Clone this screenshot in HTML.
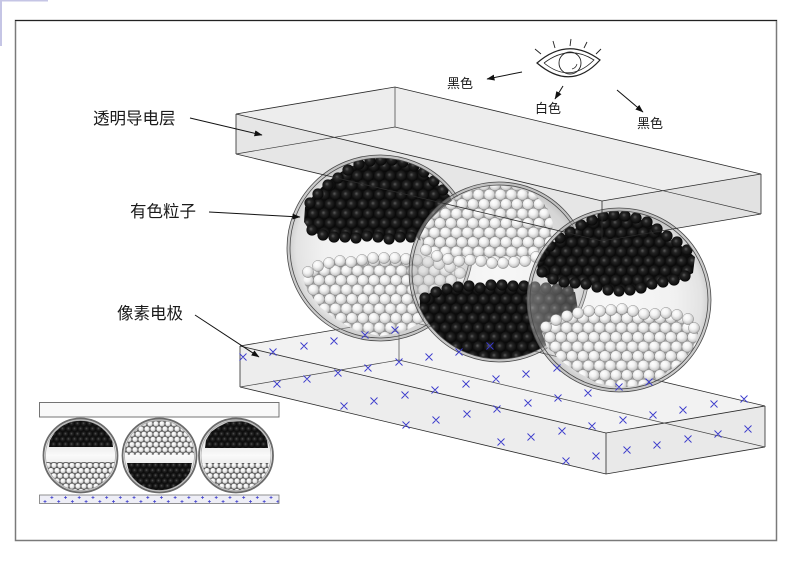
<!DOCTYPE html>
<html><head><meta charset="utf-8"><style>
html,body{margin:0;padding:0;background:#fff;}
svg{display:block;}
text{font-family:"Liberation Sans","Noto Sans CJK SC",sans-serif;fill:#1a1a1a;}
</style></head><body>
<svg width="793" height="561" viewBox="0 0 793 561" xmlns="http://www.w3.org/2000/svg">
<defs>
<radialGradient id="gBk" cx="0.45" cy="0.45" r="0.55" fx="0.4" fy="0.4">
<stop offset="0" stop-color="#5a5a5a"/><stop offset="0.35" stop-color="#252525"/><stop offset="1" stop-color="#070707"/>
</radialGradient>
<radialGradient id="gWt" cx="0.45" cy="0.42" r="0.6" fx="0.35" fy="0.3">
<stop offset="0" stop-color="#ffffff"/><stop offset="0.45" stop-color="#f3f3f3"/><stop offset="0.8" stop-color="#cfcfcf"/><stop offset="1" stop-color="#9c9c9c"/>
</radialGradient>
<pattern id="pBk" width="11" height="19" patternUnits="userSpaceOnUse">
<rect width="11" height="19" fill="#0d0d0d"/>
<circle cx="0" cy="-4.75" r="5.6" fill="url(#gBk)"/><circle cx="11" cy="-4.75" r="5.6" fill="url(#gBk)"/>
<circle cx="5.5" cy="4.75" r="5.6" fill="url(#gBk)"/>
<circle cx="0" cy="14.25" r="5.6" fill="url(#gBk)"/><circle cx="11" cy="14.25" r="5.6" fill="url(#gBk)"/>
<circle cx="5.5" cy="23.75" r="5.6" fill="url(#gBk)"/>
</pattern>
<pattern id="pWt" width="11" height="19" patternUnits="userSpaceOnUse">
<rect width="11" height="19" fill="#a2a2a2"/>
<g stroke="#7a7a7a" stroke-width="0.4" fill="url(#gWt)">
<circle cx="0" cy="-4.75" r="5.6"/><circle cx="11" cy="-4.75" r="5.6"/>
<circle cx="5.5" cy="4.75" r="5.6"/>
<circle cx="0" cy="14.25" r="5.6"/><circle cx="11" cy="14.25" r="5.6"/>
<circle cx="5.5" cy="23.75" r="5.6"/>
</g>
</pattern>
<pattern id="pBk2" width="6" height="10.4" patternUnits="userSpaceOnUse">
<rect width="6" height="10.4" fill="#111"/>
<g fill="url(#gBk)">
<circle cx="0" cy="-2.6" r="3.1"/><circle cx="6" cy="-2.6" r="3.1"/><circle cx="3" cy="2.6" r="3.1"/>
<circle cx="0" cy="7.8" r="3.1"/><circle cx="6" cy="7.8" r="3.1"/><circle cx="3" cy="13" r="3.1"/>
</g>
</pattern>
<pattern id="pWt2" width="6" height="10.4" patternUnits="userSpaceOnUse">
<rect width="6" height="10.4" fill="#606060"/>
<g fill="url(#gWt)" stroke="#444" stroke-width="0.45">
<circle cx="0" cy="-2.6" r="2.9"/><circle cx="6" cy="-2.6" r="2.9"/><circle cx="3" cy="2.6" r="2.9"/>
<circle cx="0" cy="7.8" r="2.9"/><circle cx="6" cy="7.8" r="2.9"/><circle cx="3" cy="13" r="2.9"/>
</g>
</pattern>
<pattern id="pPlus" x="45" y="495" width="13.7" height="8" patternUnits="userSpaceOnUse">
<path d="M5.35,2.5h3M6.85,1v3M-1.5,6.5h3M0,5v3M12.2,6.5h3M13.7,5v3" stroke="#3a3acc" stroke-width="0.7" fill="none"/>
</pattern>
<radialGradient id="glass" cx="0.5" cy="0.5" r="0.5">
<stop offset="0" stop-color="#d8d8d8" stop-opacity="0.2"/>
<stop offset="0.6" stop-color="#d0d0d0" stop-opacity="0.3"/>
<stop offset="0.9" stop-color="#c0c0c0" stop-opacity="0.45"/>
<stop offset="1" stop-color="#a0a0a0" stop-opacity="0.6"/>
</radialGradient>
<linearGradient id="iglass" x1="0" y1="0" x2="0" y2="1">
<stop offset="0" stop-color="#c4c4c4"/><stop offset="0.5" stop-color="#fafafa"/><stop offset="1" stop-color="#c4c4c4"/>
</linearGradient>
<clipPath id="c1"><circle cx="380" cy="248" r="90"/></clipPath>
<clipPath id="c2"><circle cx="499" cy="272" r="87"/></clipPath>
<clipPath id="c3"><circle cx="619" cy="300" r="89"/></clipPath>
<clipPath id="ic1"><circle cx="80.5" cy="455.5" r="35"/></clipPath>
<clipPath id="ic2"><circle cx="159.5" cy="455.5" r="35"/></clipPath>
<clipPath id="ic3"><circle cx="236" cy="455.5" r="35"/></clipPath>
<marker id="ah" markerWidth="8" markerHeight="6" refX="7.5" refY="3" orient="auto" markerUnits="userSpaceOnUse">
<path d="M0,0 L8,3 L0,6 z" fill="#111"/>
</marker>
</defs>

<!-- corner marks & frame -->
<rect x="0" y="0" width="48" height="1.5" fill="#c5c5e5"/>
<rect x="0" y="0" width="2" height="46" fill="#c5c5e5"/>
<rect x="15.5" y="20.5" width="761" height="520" fill="none" stroke="#7a7a7a" stroke-width="1.5"/>
<line x1="15" y1="20.5" x2="777" y2="20.5" stroke="#222" stroke-width="1"/>

<!-- eye -->
<g fill="none" stroke="#222" stroke-width="1">
<path d="M537,63 Q568,36 600,60 Q571,92 537,63 Z" stroke-width="1.2"/>
<path d="M544,63 Q569,44 594,60 Q570,84 544,63" stroke-width="0.8"/>
<circle cx="570" cy="63" r="11" stroke-width="0.9"/>
<path d="M572,69 Q576,68 577,64" stroke-width="0.7"/>
<path d="M541,54 L535,49 M555,48 L553,41 M570,46 L571,39 M584,48 L587,42 M596,54 L601,49" stroke-width="0.9"/>
</g>
<g stroke="#111" stroke-width="1" fill="none" marker-end="url(#ah)">
<line x1="522" y1="72" x2="487" y2="79"/>
<line x1="563" y1="86" x2="555" y2="99"/>
<line x1="617" y1="90" x2="643" y2="112"/>
</g>
<text x="447" y="88" font-size="13">黑色</text>
<text x="535" y="113" font-size="13">白色</text>
<text x="637" y="128" font-size="13">黑色</text>

<!-- top plate fills -->
<path d="M236,114 L395,87 L761,174 L602,201 Z" fill="#ededed"/>
<path d="M236,114 L602,201 L602,241 L236,154 Z" fill="#e6e6e6"/>
<path d="M602,201 L761,174 L761,214 L602,241 Z" fill="#e2e2e2"/>

<!-- bottom plate -->
<path d="M240,346 L399,319 L765,406 L606,433 Z" fill="#f2f2f2"/>
<path d="M240,346 L606,433 L606,474 L240,387 Z" fill="#ededed"/>
<path d="M606,433 L765,406 L765,447 L606,474 Z" fill="#e9e9e9"/>
<g fill="none" stroke="#2a2a2a" stroke-width="0.8">
<path d="M240,346 L399,319 L765,406 L606,433 Z"/>
<path d="M240,387 L606,474 L765,447"/>
<path d="M240,346 V387 M606,433 V474 M765,406 V447"/>
<path d="M240,387 L399,360 L765,447 M399,319 V360" stroke="#444" stroke-width="0.7"/>
</g>

<!-- sphere 1 -->
<circle cx="380" cy="248" r="93" fill="url(#glass)"/>
<g clip-path="url(#c1)">
<path d="M305,207 L313,196 L327,182 L347,168 L363,162 L387,159 L407,163 L423,172 L437,184 L450,196 L456,212 L452,228 L437,233 L423,236 L407,238 L390,240 L373,237 L357,239 L340,238 L323,236 L310,231 L304,222 Z" fill="url(#pBk)"/>
<g fill="url(#gBk)">
<circle cx="312" cy="230" r="5.6"/><circle cx="323" cy="235" r="5.6"/><circle cx="334" cy="237" r="5.6"/><circle cx="345" cy="237" r="5.6"/><circle cx="356" cy="238" r="5.6"/><circle cx="367" cy="236" r="5.6"/><circle cx="378" cy="237" r="5.6"/><circle cx="389" cy="239" r="5.6"/><circle cx="400" cy="237" r="5.6"/><circle cx="411" cy="237" r="5.6"/><circle cx="422" cy="235" r="5.6"/><circle cx="433" cy="232" r="5.6"/><circle cx="444" cy="229" r="5.6"/>
<circle cx="310" cy="203" r="5.6"/><circle cx="318" cy="194" r="5.6"/><circle cx="328" cy="185" r="5.6"/><circle cx="338" cy="178" r="5.6"/><circle cx="348" cy="170" r="5.6"/><circle cx="359" cy="164" r="5.6"/><circle cx="370" cy="161" r="5.6"/><circle cx="381" cy="160" r="5.6"/><circle cx="392" cy="160" r="5.6"/><circle cx="403" cy="162" r="5.6"/><circle cx="414" cy="166" r="5.6"/><circle cx="424" cy="172" r="5.6"/><circle cx="434" cy="181" r="5.6"/><circle cx="443" cy="190" r="5.6"/>
</g>
<path d="M303,280 L310,267 L323,263 L340,260 L357,262 L370,258 L387,257 L413,259 L433,262 L453,268 L467,277 L466,292 L445,305 L422,322 L403,332 L380,336 L357,331 L337,320 L320,307 L308,292 Z" fill="url(#pWt)"/>
<g fill="url(#gWt)" stroke="#7a7a7a" stroke-width="0.4">
<circle cx="308" cy="272" r="5.6"/><circle cx="318" cy="266" r="5.6"/><circle cx="329" cy="263" r="5.6"/><circle cx="340" cy="261" r="5.6"/><circle cx="351" cy="262" r="5.6"/><circle cx="362" cy="260" r="5.6"/><circle cx="373" cy="258" r="5.6"/><circle cx="384" cy="258" r="5.6"/><circle cx="395" cy="258" r="5.6"/><circle cx="406" cy="259" r="5.6"/><circle cx="417" cy="260" r="5.6"/><circle cx="428" cy="262" r="5.6"/><circle cx="439" cy="264" r="5.6"/><circle cx="450" cy="267" r="5.6"/><circle cx="460" cy="273" r="5.6"/>
</g>
</g>
<g fill="none" stroke="#4a4a4a" stroke-width="0.8">
<circle cx="380" cy="248" r="93"/><circle cx="380" cy="248" r="90"/>
</g>

<!-- sphere 2 -->
<circle cx="499" cy="272" r="90" fill="url(#glass)"/>
<g clip-path="url(#c2)">
<path d="M420,237 L427,223 L440,210 L457,197 L473,190 L493,185 L513,187 L533,193 L547,207 L553,223 L550,250 L540,258 L527,263 L510,263 L493,265 L477,260 L460,262 L443,258 L430,253 L422,247 Z" fill="url(#pWt)"/>
<g fill="url(#gWt)" stroke="#7a7a7a" stroke-width="0.4">
<circle cx="426" cy="250" r="5.6"/><circle cx="437" cy="256" r="5.6"/><circle cx="448" cy="259" r="5.6"/><circle cx="459" cy="261" r="5.6"/><circle cx="470" cy="260" r="5.6"/><circle cx="481" cy="261" r="5.6"/><circle cx="492" cy="263" r="5.6"/><circle cx="503" cy="263" r="5.6"/><circle cx="514" cy="262" r="5.6"/><circle cx="525" cy="261" r="5.6"/><circle cx="536" cy="257" r="5.6"/><circle cx="546" cy="251" r="5.6"/>
</g>
<path d="M420,300 L430,293 L450,288 L467,285 L480,288 L493,283 L510,285 L530,286 L555,288 L575,292 L578,310 L570,330 L555,348 L535,358 L517,362 L500,363 L480,361 L460,354 L440,341 L427,328 L420,313 Z" fill="url(#pBk)"/>
<g fill="url(#gBk)">
<circle cx="425" cy="298" r="5.6"/><circle cx="436" cy="292" r="5.6"/><circle cx="447" cy="289" r="5.6"/><circle cx="458" cy="287" r="5.6"/><circle cx="469" cy="286" r="5.6"/><circle cx="480" cy="288" r="5.6"/><circle cx="491" cy="285" r="5.6"/><circle cx="502" cy="285" r="5.6"/><circle cx="513" cy="286" r="5.6"/><circle cx="524" cy="286" r="5.6"/><circle cx="535" cy="287" r="5.6"/><circle cx="546" cy="288" r="5.6"/><circle cx="557" cy="289" r="5.6"/><circle cx="568" cy="291" r="5.6"/>
</g>
</g>
<g fill="none" stroke="#4a4a4a" stroke-width="0.8">
<circle cx="499" cy="272" r="90"/><circle cx="499" cy="272" r="87"/>
</g>

<!-- sphere 3 -->
<circle cx="619" cy="300" r="92" fill="url(#glass)"/>
<g clip-path="url(#c3)">
<path d="M537,260 L543,252 L557,240 L573,230 L590,220 L610,215 L633,217 L650,223 L667,237 L683,247 L695,257 L693,273 L680,280 L660,283 L640,290 L620,292 L600,287 L583,283 L567,283 L550,280 L538,273 Z" fill="url(#pBk)"/>
<g fill="url(#gBk)">
<circle cx="542" cy="272" r="5.6"/><circle cx="553" cy="279" r="5.6"/><circle cx="564" cy="282" r="5.6"/><circle cx="575" cy="283" r="5.6"/><circle cx="586" cy="284" r="5.6"/><circle cx="597" cy="287" r="5.6"/><circle cx="608" cy="290" r="5.6"/><circle cx="619" cy="291" r="5.6"/><circle cx="630" cy="290" r="5.6"/><circle cx="641" cy="288" r="5.6"/><circle cx="652" cy="284" r="5.6"/><circle cx="663" cy="282" r="5.6"/><circle cx="674" cy="280" r="5.6"/><circle cx="685" cy="276" r="5.6"/>
<circle cx="541" cy="256" r="5.6"/><circle cx="550" cy="246" r="5.6"/><circle cx="560" cy="238" r="5.6"/><circle cx="570" cy="232" r="5.6"/><circle cx="581" cy="225" r="5.6"/><circle cx="592" cy="220" r="5.6"/><circle cx="603" cy="216" r="5.6"/><circle cx="614" cy="215" r="5.6"/><circle cx="625" cy="216" r="5.6"/><circle cx="636" cy="218" r="5.6"/><circle cx="647" cy="222" r="5.6"/><circle cx="657" cy="229" r="5.6"/><circle cx="667" cy="236" r="5.6"/><circle cx="677" cy="242" r="5.6"/><circle cx="687" cy="250" r="5.6"/>
</g>
<path d="M542,333 L547,323 L560,317 L573,313 L587,310 L607,312 L617,308 L633,312 L647,315 L663,313 L680,315 L693,320 L698,333 L695,347 L680,363 L660,377 L640,385 L620,388 L597,383 L577,372 L560,360 L547,347 Z" fill="url(#pWt)"/>
<g fill="url(#gWt)" stroke="#7a7a7a" stroke-width="0.4">
<circle cx="546" cy="327" r="5.6"/><circle cx="556" cy="320" r="5.6"/><circle cx="567" cy="316" r="5.6"/><circle cx="578" cy="313" r="5.6"/><circle cx="589" cy="311" r="5.6"/><circle cx="600" cy="311" r="5.6"/><circle cx="611" cy="310" r="5.6"/><circle cx="622" cy="309" r="5.6"/><circle cx="633" cy="311" r="5.6"/><circle cx="644" cy="314" r="5.6"/><circle cx="655" cy="314" r="5.6"/><circle cx="666" cy="313" r="5.6"/><circle cx="677" cy="315" r="5.6"/><circle cx="688" cy="319" r="5.6"/><circle cx="694" cy="328" r="5.6"/>
</g>
</g>
<g fill="none" stroke="#4a4a4a" stroke-width="0.8">
<circle cx="619" cy="300" r="92"/><circle cx="619" cy="300" r="89"/>
</g>

<!-- top plate edges -->
<g fill="none" stroke="#2a2a2a" stroke-width="0.8">
<path d="M236,114 L395,87 L761,174 L602,201 Z"/>
<path d="M236,154 L602,241 L761,214"/>
<path d="M236,114 V154 M602,201 V241 M761,174 V214"/>
<path d="M236,154 L395,127 L761,214 M395,87 V127" stroke="#3a3a3a" stroke-width="0.7"/>
</g>

<!-- pixel electrode x marks -->
<path fill="none" stroke="#3a3acc" stroke-width="0.9" d="
M239.5,353.5l7,7m0,-7l-7,7 M269.5,348.5l7,7m0,-7l-7,7 M300.5,342.5l7,7m0,-7l-7,7 M330.5,337.5l7,7m0,-7l-7,7 M361.5,331.5l7,7m0,-7l-7,7 M391.5,326.5l7,7m0,-7l-7,7
M273.5,380.5l7,7m0,-7l-7,7 M303.5,375.5l7,7m0,-7l-7,7 M334.5,369.5l7,7m0,-7l-7,7 M364.5,364.5l7,7m0,-7l-7,7 M395.5,358.5l7,7m0,-7l-7,7 M425.5,353.5l7,7m0,-7l-7,7 M455.5,348.5l7,7m0,-7l-7,7 M486.5,342.5l7,7m0,-7l-7,7
M340.5,402.5l7,7m0,-7l-7,7 M370.5,397.5l7,7m0,-7l-7,7 M401.5,391.5l7,7m0,-7l-7,7 M431.5,386.5l7,7m0,-7l-7,7 M462.5,380.5l7,7m0,-7l-7,7 M492.5,375.5l7,7m0,-7l-7,7 M522.5,370.5l7,7m0,-7l-7,7 M553.5,364.5l7,7m0,-7l-7,7
M402.5,421.5l7,7m0,-7l-7,7 M432.5,416.5l7,7m0,-7l-7,7 M463.5,410.5l7,7m0,-7l-7,7 M493.5,405.5l7,7m0,-7l-7,7 M524.5,399.5l7,7m0,-7l-7,7 M554.5,394.5l7,7m0,-7l-7,7 M584.5,389.5l7,7m0,-7l-7,7 M615.5,383.5l7,7m0,-7l-7,7 M645.5,378.5l7,7m0,-7l-7,7
M497.5,438.5l7,7m0,-7l-7,7 M527.5,433.5l7,7m0,-7l-7,7 M558.5,427.5l7,7m0,-7l-7,7 M588.5,422.5l7,7m0,-7l-7,7 M619.5,416.5l7,7m0,-7l-7,7 M649.5,411.5l7,7m0,-7l-7,7 M679.5,406.5l7,7m0,-7l-7,7 M710.5,400.5l7,7m0,-7l-7,7 M740.5,395.5l7,7m0,-7l-7,7
M562.5,457.5l7,7m0,-7l-7,7 M592.5,452.5l7,7m0,-7l-7,7 M623.5,446.5l7,7m0,-7l-7,7 M653.5,441.5l7,7m0,-7l-7,7 M684.5,435.5l7,7m0,-7l-7,7 M714.5,430.5l7,7m0,-7l-7,7 M744.5,425.5l7,7m0,-7l-7,7"/>

<!-- left labels -->
<text x="93" y="124" font-size="16.5">透明导电层</text>
<text x="130" y="217" font-size="16.5">有色粒子</text>
<text x="117" y="319" font-size="16.5">像素电极</text>
<g stroke="#111" stroke-width="1" fill="none" marker-end="url(#ah)">
<line x1="190" y1="118" x2="262" y2="135"/>
<line x1="209" y1="212" x2="300" y2="217"/>
<line x1="195" y1="315" x2="259" y2="357"/>
</g>

<!-- inset -->
<rect x="39.5" y="402.5" width="239.5" height="14.5" fill="#f9f9f9" stroke="#666" stroke-width="0.9"/>
<g>
<circle cx="80.5" cy="455.5" r="37" fill="url(#iglass)"/>
<g clip-path="url(#ic1)">
<path d="M49,447 L50,440 L55,432 L62,426 L72,421 L88,420 L100,424 L108,431 L112,439 L113,447 Z" fill="url(#pBk2)"/>
<path d="M44,462 H117 V495 H44 Z" fill="url(#pWt2)"/>
</g>
<circle cx="80.5" cy="455.5" r="37" fill="none" stroke="#6a6a6a" stroke-width="1.8"/>
<circle cx="80.5" cy="455.5" r="35" fill="none" stroke="#aaa" stroke-width="0.8"/>

<circle cx="159.5" cy="455.5" r="37" fill="url(#iglass)"/>
<g clip-path="url(#ic2)">
<path d="M123,418 H196 V455 H123 Z" fill="url(#pWt2)"/>
<path d="M127,463 H192 L190,472 L184,482 L173,489 L159,492 L146,489 L135,482 L129,472 Z" fill="url(#pBk2)"/>
</g>
<circle cx="159.5" cy="455.5" r="37" fill="none" stroke="#6a6a6a" stroke-width="1.8"/>
<circle cx="159.5" cy="455.5" r="35" fill="none" stroke="#aaa" stroke-width="0.8"/>

<circle cx="236" cy="455.5" r="37" fill="url(#iglass)"/>
<g clip-path="url(#ic3)">
<path d="M205,448 L206,440 L211,432 L218,427 L228,422 L244,421 L256,425 L263,432 L267,440 L268,448 Z" fill="url(#pBk2)"/>
<path d="M199,463 H273 V495 H199 Z" fill="url(#pWt2)"/>
</g>
<circle cx="236" cy="455.5" r="37" fill="none" stroke="#6a6a6a" stroke-width="1.8"/>
<circle cx="236" cy="455.5" r="35" fill="none" stroke="#aaa" stroke-width="0.8"/>
</g>
<rect x="39.5" y="495" width="239.5" height="8.5" fill="#eeeef6" stroke="#777" stroke-width="0.8"/>
<rect x="40" y="495.5" width="238.5" height="7.5" fill="url(#pPlus)"/>
</svg>
</body></html>
